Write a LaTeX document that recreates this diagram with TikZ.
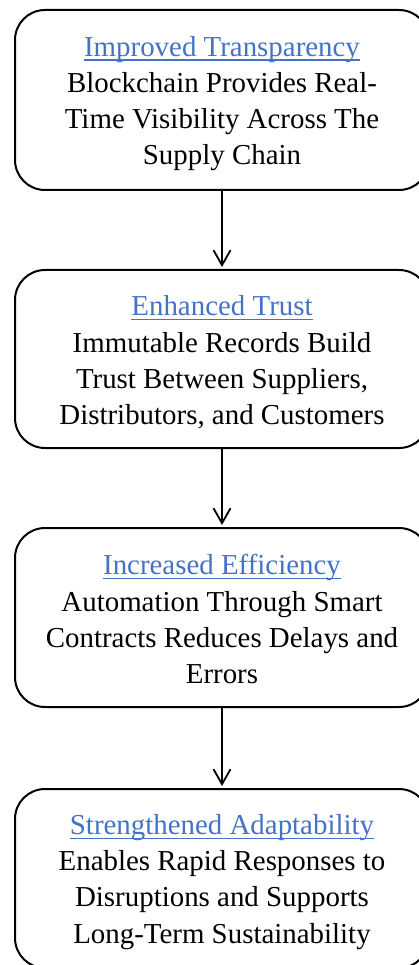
\documentclass[tikz,border=0pt]{standalone}
\usepackage{fontspec}
\setmainfont{Liberation Serif}
\usetikzlibrary{arrows.meta}
\definecolor{titleblue}{HTML}{4472C4}
\newcommand\ttlul[1]{{\color{titleblue}\setbox0\hbox{#1}\rlap{\rule[-4.5pt]{\wd0}{1.3pt}}\box0}}
\newcommand\topstrut{\rule{0pt}{27pt}}
\newcommand\botstrut{\rule[-3.5pt]{0pt}{3.5pt}}
\tikzset{
  stagebox/.style={draw=black, line width=2pt, rounded corners=30pt,
    minimum width=414pt, align=center, inner sep=0pt,
    font=\fontsize{28.9}{36.2}\selectfont},
  flowarrow/.style={draw=black, line width=1.8pt,
    -{Straight Barb[length=15pt,width=17pt,line width=1.8pt]}, shorten >=2pt}
}
\begin{document}
\begin{tikzpicture}[x=1pt,y=1pt]
\useasboundingbox (0,0) rectangle (418,-965);
\node[stagebox, minimum height=180pt] (b1) at (222,-100)
  {\topstrut\ttlul{Improved Transparency}\\
   Blockchain Provides Real-\\
   Time Visibility Across The\\
   Supply Chain\botstrut};
\node[stagebox, minimum height=178pt] (b2) at (222,-359)
  {\topstrut\ttlul{Enhanced Trust}\\
   Immutable Records Build\\
   Trust Between Suppliers,\\
   Distributors, and Customers\botstrut};
\node[stagebox, minimum height=179pt] (b3) at (222,-617.5)
  {\topstrut\ttlul{Increased Efficiency}\\
   Automation Through Smart\\
   Contracts Reduces Delays and\\
   Errors\botstrut};
\node[stagebox, minimum height=179pt] (b4) at (222,-878.5)
  {\topstrut\ttlul{Strengthened Adaptability}\\
   Enables Rapid Responses to\\
   Disruptions and Supports\\
   Long-Term Sustainability\botstrut};
\draw[flowarrow] (b1.south) -- (b2.north);
\draw[flowarrow] (b2.south) -- (b3.north);
\draw[flowarrow] (b3.south) -- (b4.north);
\end{tikzpicture}
\end{document}
